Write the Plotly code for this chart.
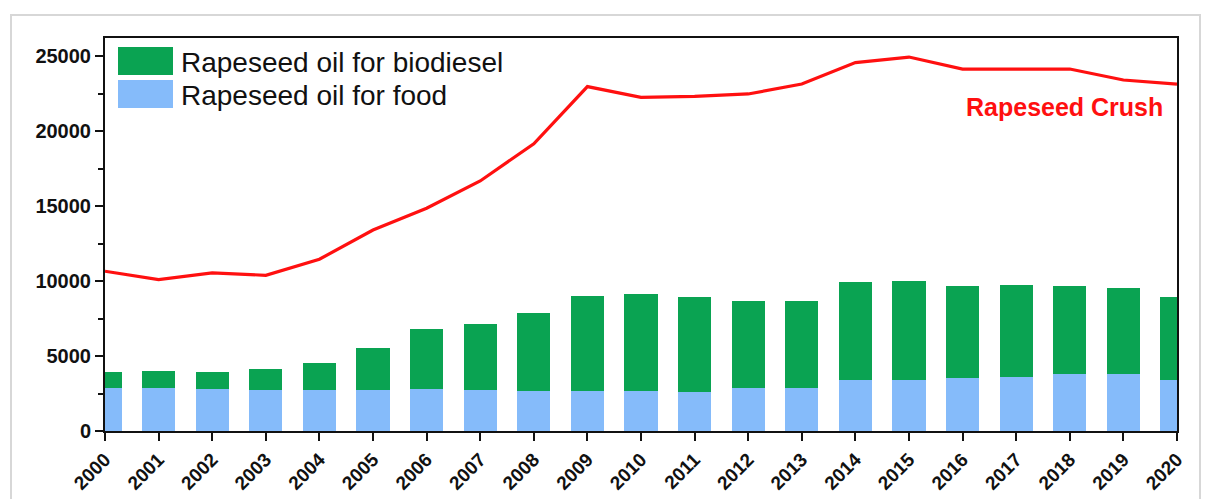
import plotly.graph_objects as go

years = list(range(2000, 2021))
food = [2840, 2840, 2790, 2750, 2750, 2750, 2790, 2750, 2680, 2680, 2680,
        2590, 2900, 2900, 3370, 3370, 3530, 3610, 3770, 3770, 3370]
biodiesel = [1090, 1150, 1140, 1360, 1800, 2810, 4040, 4370, 5200, 6290, 6430,
             6320, 5780, 5780, 6580, 6630, 6130, 6120, 5870, 5780, 5580]
crush = [10650, 10090, 10540, 10380, 11450, 13400, 14850, 16670, 19150, 22960, 22240,
         22310, 22470, 23130, 24560, 24930, 24130, 24130, 24130, 23400, 23130]

legend_labels = ["Rapeseed oil for biodiesel", "Rapeseed oil for food"]
line_label = "Rapeseed Crush"

GREEN = "rgb(10,163,82)"
BLUE = "rgb(133,187,250)"
RED = "rgb(255,16,16)"

# page offset (body margin) compensation
OX, OY = 8, 8
W, H = 1209 - OX, 499 - OY
# plot area in screenshot pixels: x 105..1177, y 38..431
L, R, T, B = 105 - OX, W - (1177 - OX), 38 - OY, H - (431 - OY)
pw, ph = W - L - R, H - T - B

def px(x):
    return (x - OX - L) / pw

def py(y):
    return (H - B - (y - OY)) / ph

fig = go.Figure()
fig.add_trace(go.Bar(x=years, y=food, name=legend_labels[1], marker_color=BLUE,
                     marker_line_width=0, width=0.62, showlegend=False))
fig.add_trace(go.Bar(x=years, y=biodiesel, name=legend_labels[0], marker_color=GREEN,
                     marker_line_width=0, width=0.62, showlegend=False))
fig.add_trace(go.Scatter(x=years, y=crush, mode="lines", name=line_label,
                         line=dict(color=RED, width=3.2), showlegend=False))

shapes = [
    # card border
    dict(type="rect", xref="paper", yref="paper", x0=px(11), x1=px(1200), y0=py(530), y1=py(15),
         line=dict(color="rgb(215,215,215)", width=2), fillcolor="rgba(0,0,0,0)", layer="below"),
    # legend swatches
    dict(type="rect", xref="paper", yref="paper", x0=px(118), x1=px(173), y0=py(75), y1=py(47),
         line=dict(width=0), fillcolor=GREEN),
    dict(type="rect", xref="paper", yref="paper", x0=px(118), x1=px(173), y0=py(108), y1=py(80),
         line=dict(width=0), fillcolor=BLUE),
]

annotations = [
    dict(text=legend_labels[0], xref="paper", yref="paper", x=px(179), y=py(62),
         xanchor="left", yanchor="middle", showarrow=False,
         font=dict(family="Liberation Sans, Arial", size=28, color="#111")),
    dict(text=legend_labels[1], xref="paper", yref="paper", x=px(179), y=py(95),
         xanchor="left", yanchor="middle", showarrow=False,
         font=dict(family="Liberation Sans, Arial", size=28, color="#111")),
    dict(text="<b>" + line_label + "</b>", xref="paper", yref="paper", x=px(1165), y=py(107),
         xanchor="right", yanchor="middle", showarrow=False,
         font=dict(family="Liberation Sans, Arial", size=25, color=RED)),
]

fig.update_layout(
    width=W, height=H,
    margin=dict(l=L, r=R, t=T, b=B, autoexpand=False),
    paper_bgcolor="white", plot_bgcolor="white",
    barmode="stack",
    shapes=shapes,
    annotations=annotations,
    font=dict(family="Liberation Sans, Arial", color="#111"),
)
fig.update_xaxes(
    range=[2000, 2020], tickmode="array", tickvals=years,
    ticktext=["<b>%d</b>" % y for y in years], tickangle=-45,
    ticks="outside", ticklen=8, tickwidth=2, tickcolor="#111",
    showline=True, linecolor="#111", linewidth=2, mirror=True,
    showgrid=False, zeroline=False, automargin=False,
    tickfont=dict(size=19, family="Liberation Sans, Arial", color="#111"),
)
fig.update_yaxes(
    range=[0, 26200], tickmode="array", tickvals=[0, 5000, 10000, 15000, 20000, 25000],
    ticktext=["<b>%d</b>" % v for v in [0, 5000, 10000, 15000, 20000, 25000]],
    ticks="outside", ticklen=8, tickwidth=2, tickcolor="#111",
    minor=dict(tickvals=[2500, 7500, 12500, 17500, 22500], ticks="outside", ticklen=5,
               tickwidth=2, tickcolor="#111", showgrid=False),
    showline=True, linecolor="#111", linewidth=2, mirror=True,
    showgrid=False, zeroline=False, automargin=False,
    tickfont=dict(size=20, family="Liberation Sans, Arial", color="#111"),
)

fig.write_html("out.html")
